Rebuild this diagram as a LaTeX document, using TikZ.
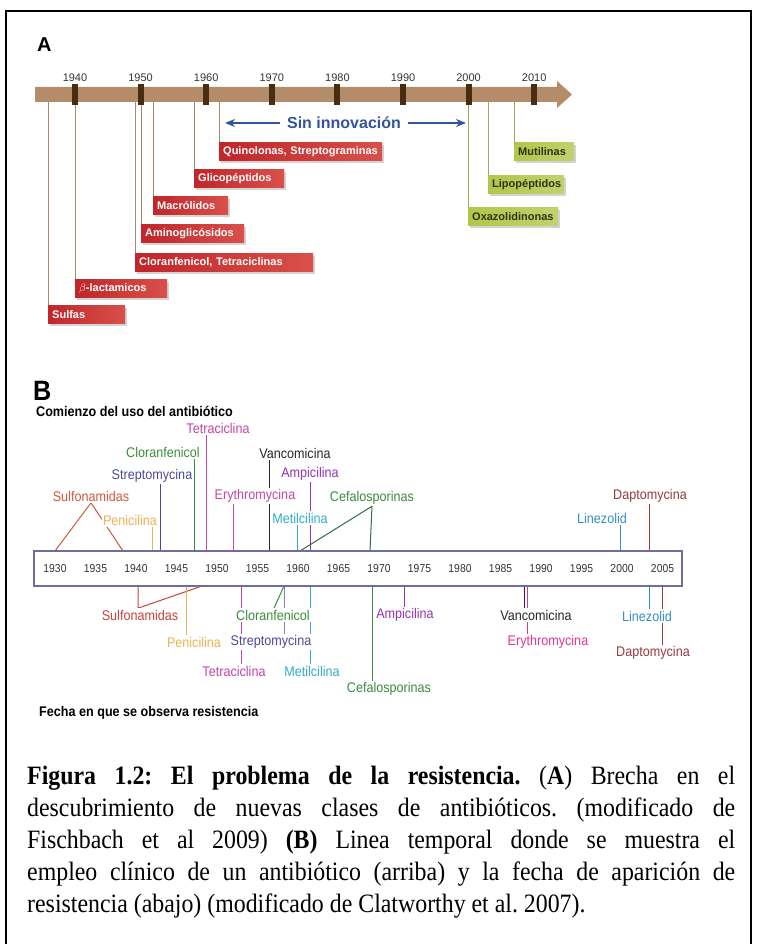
\documentclass[tikz,border=0pt]{standalone}
\usepackage{fontspec}
\setmainfont{Liberation Serif}
\setsansfont{Liberation Sans}
\newfontfamily\condsans[FakeStretch=0.9]{Liberation Sans}
\newfontfamily\captfont[FakeStretch=0.9]{Liberation Serif}
\usepackage{tikz}
\usetikzlibrary{arrows.meta,positioning,calc,shadows,backgrounds}
\definecolor{barbrown}{HTML}{B48C6A}
\definecolor{tickbrown}{HTML}{4A2C14}
\definecolor{linktan}{HTML}{A8886A}
\definecolor{linkolive}{HTML}{A9A25A}
\definecolor{boxred}{HTML}{C0262B}
\definecolor{boxredlt}{HTML}{D9504A}
\definecolor{boxgreen}{HTML}{B2C64A}
\definecolor{greentext}{HTML}{2E3510}
\definecolor{gaptext}{HTML}{34539E}
\definecolor{axisline}{HTML}{6F6C9E}
\definecolor{sulfo}{HTML}{D0583C}
\definecolor{sulfolow}{HTML}{C8403E}
\definecolor{penic}{HTML}{E8B450}
\definecolor{strepto}{HTML}{4C4A98}
\definecolor{clora}{HTML}{3C8C3C}
\definecolor{tetra}{HTML}{C444A4}
\definecolor{erythro}{HTML}{C4479C}
\definecolor{erythrolow}{HTML}{E0368E}
\definecolor{ampi}{HTML}{9432B4}
\definecolor{meti}{HTML}{34AAC8}
\definecolor{cefa}{HTML}{3C8A40}
\definecolor{cefaline}{HTML}{2E6E44}
\definecolor{linez}{HTML}{3490C4}
\definecolor{dapto}{HTML}{963A3C}

\begin{document}
\begin{tikzpicture}[x=1pt,y=-1pt,
  redbox/.style={anchor=north west,left color=boxred,right color=boxredlt,
                 text=white,font=\sffamily\bfseries\fontsize{11}{12}\selectfont,
                 text width=#1,align=left,minimum height=18pt,inner xsep=4pt,inner ysep=2pt,
                 drop shadow={opacity=0.35,shadow xshift=2pt,shadow yshift=-2.5pt}},
  greenbox/.style={redbox=#1,left color=boxgreen,right color=boxgreen!80!white,text=greentext},
  tickA/.style={fill=tickbrown,minimum width=6pt,minimum height=21pt,inner sep=0pt},
  yearA/.style={font=\sffamily\fontsize{11}{12}\selectfont,text=black!80},
  linkA/.style={draw=linktan,line width=0.9pt},
  linkG/.style={draw=linkolive,line width=0.9pt},
  gaparr/.style={draw=gaptext,line width=2pt,-{Stealth[length=10pt,width=8pt]}},
  yearB/.style={font=\condsans\fontsize{11.5}{12}\selectfont,text=black!80},
  drug/.style={font=\condsans\fontsize{14}{15}\selectfont,fill=white,inner sep=1.5pt},
  tie/.style={line width=1pt},
  title/.style={font=\condsans\bfseries\fontsize{14}{15}\selectfont,anchor=base west,inner sep=0pt},
]
\useasboundingbox (0,0) rectangle (757,944);
\draw[line width=2pt] (6,944) -- (6,11) -- (751,11) -- (751,944);

\node[font=\sffamily\bfseries\fontsize{20}{22}\selectfont,anchor=base west,inner sep=0pt] (pA) at (37,52) {A};
\fill[barbrown] (35,87) -- (557,87) -- (557,81) -- (572,94.5) -- (557,108) -- (557,102) -- (35,102) -- cycle;
\foreach \yr [count=\i from 0] in {1940,1950,...,2010}{
  \node[tickA] (tk\yr) at (75+65.6*\i,94.5) {};
  \node[yearA] (yA\yr) at (75+65.6*\i,78) {\yr};
}

\node[font=\sffamily\bfseries\fontsize{16}{18}\selectfont,text=gaptext,inner xsep=7pt] (gap) at (344,123) {Sin innovación};
\coordinate (gapL) at (225,123);
\coordinate (gapR) at (466,123);
\draw[gaparr] (gap.west) -- (gapL);
\draw[gaparr] (gap.east) -- (gapR);

\node[redbox=155pt] (quino) at (219,142) {Quinolonas, Streptograminas};
\node[redbox=82pt] (glico) at (194,169) {Glicopéptidos};
\node[redbox=67pt] (macro) at (153,196) {Macrólidos};
\node[redbox=95pt] (amino) at (141,224) {Aminoglicósidos};
\node[redbox=170pt] (clote) at (135,253) {Cloranfenicol, Tetraciclinas};
\node[redbox=84pt] (betal) at (75,279) {$\beta$-lactamicos};
\node[redbox=69pt] (sulfa) at (48,305) {Sulfas};
\node[greenbox=52pt] (mutil) at (514,142) {Mutilinas};
\node[greenbox=68pt] (lipop) at (488,175) {Lipopéptidos};
\node[greenbox=82pt] (oxazo) at (468,207) {Oxazolidinonas};

\foreach \nm/\x in {c35/48,c40/75,c49/135,c50/141,c52/153,c58/194,c62/219,c00/468,c03/488,c07/514}
  \coordinate (\nm) at (\x,102);
\begin{scope}[on background layer]
  \draw[linkA] (c35) -- (sulfa.north west);
  \draw[linkA] (c40) -- (betal.north west);
  \draw[linkA] (c49) -- (clote.north west);
  \draw[linkA] (c50) -- (amino.north west);
  \draw[linkA] (c52) -- (macro.north west);
  \draw[linkA] (c58) -- (glico.north west);
  \draw[linkA] (c62) -- (quino.north west);
  \draw[linkG] (c00) -- (oxazo.north west);
  \draw[linkG] (c03) -- (lipop.north west);
  \draw[linkG] (c07) -- (mutil.north west);
\end{scope}

\node[font=\condsans\bfseries\fontsize{28}{30}\selectfont,anchor=base west,inner sep=0pt] (pB) at (33,400) {B};
\node[title] (useT) at (36,416) {Comienzo del uso del antibiótico};
\node[title] (resT) at (39,716) {Fecha en que se observa resistencia};

\node[draw=axisline,line width=1.3pt,minimum width=648pt,minimum height=35pt,inner sep=0pt] (axis) at (358,568.5) {};
\foreach \yr [count=\i from 0] in {1930,1935,...,2005}
  \node[yearB] (yB\yr) at (55+40.5*\i,569) {\yr};

\node[drug,text=sulfo] (sulTop) at (91,496) {Sulfonamidas};
\node[drug,text=penic] (penTop) at (130,520) {Penicilina};
\node[drug,text=strepto] (strTop) at (152,476) {Streptomycina};
\node[drug,text=clora] (cloTop) at (163,452) {Cloranfenicol};
\node[drug,text=tetra] (tetTop) at (218,428) {Tetraciclina};
\node[drug,text=erythro] (eryTop) at (255,496) {Erythromycina};
\node[drug,text=black!85] (vanTop) at (295,453) {Vancomicina};
\node[drug,text=ampi] (ampTop) at (310,474) {Ampicilina};
\node[drug,text=meti] (metTop) at (300,518) {Metilcilina};
\node[drug,text=cefa] (cefTop) at (372,498) {Cefalosporinas};
\node[drug,text=linez] (linTop) at (602,518) {Linezolid};
\node[drug,text=dapto] (dapTop) at (650,496) {Daptomycina};

\node[drug,text=sulfolow] (sulLow) at (140,615) {Sulfonamidas};
\node[drug,text=penic] (penLow) at (194,642) {Penicilina};
\node[drug,text=clora] (cloLow) at (273,615) {Cloranfenicol};
\node[drug,text=strepto] (strLow) at (271,642) {Streptomycina};
\node[drug,text=tetra] (tetLow) at (234,671) {Tetraciclina};
\node[drug,text=meti] (metLow) at (312,671) {Metilcilina};
\node[drug,text=cefa] (cefLow) at (389,689) {Cefalosporinas};
\node[drug,text=ampi] (ampLow) at (405,615) {Ampicilina};
\node[drug,text=black!85] (vanLow) at (536,615) {Vancomicina};
\node[drug,text=erythrolow] (eryLow) at (548,642) {Erythromycina};
\node[drug,text=linez] (linLow) at (647,616) {Linezolid};
\node[drug,text=dapto] (dapLow) at (653,653) {Daptomycina};

\foreach \nm/\x in {uSa/55,uSb/123,uPen/152,uStr/160,uClo/194,uTet/206,uEry/233,uVan/269,uMet/297,uCa/300,uAmp/310,uCb/370,uLin/620,uDap/649}
  \coordinate (\nm) at (\x,551);
\foreach \nm/\x in {lSa/138,lSb/202,lPen/186,lTet/241,lStr/284,lMet/310,lCef/372,lAmp/404,lVan/524,lEry/527,lLin/649,lDap/662}
  \coordinate (\nm) at (\x,586);

\begin{scope}[on background layer]
  \draw[tie,sulfo] (uSa) -- (sulTop.south) -- (uSb);
  \draw[tie,penic] (uPen) -- (uPen |- penTop.south);
  \draw[tie,strepto] (uStr) -- (uStr |- strTop.south);
  \draw[tie,clora] (uClo) -- (uClo |- cloTop.south);
  \draw[tie,tetra] (uTet) -- (uTet |- tetTop.south);
  \draw[tie,erythro] (uEry) -- (uEry |- eryTop.south);
  \draw[tie,black!85] (uVan) -- (uVan |- vanTop.south);
  \draw[tie,ampi] (uAmp) -- (uAmp |- ampTop.south);
  \draw[tie,meti] (uMet) -- (uMet |- metTop.south);
  \draw[tie,cefaline] (uCa) -- (cefTop.south) -- (uCb);
  \draw[tie,linez] (uLin) -- (uLin |- linTop.south);
  \draw[tie,dapto] (uDap) -- (uDap |- dapTop.south);

  \draw[tie,sulfolow] (lSa) -- (lSa |- sulLow.north) -- (lSb);
  \draw[tie,penic] (lPen) -- (lPen |- penLow.north);
  \draw[tie,tetra] (lTet) -- (lTet |- tetLow.north);
  \draw[tie,strepto!70] (lStr) -- (lStr |- strLow.north);
  \draw[tie,clora] (lStr) -- ($(cloLow.north)+(1,0)$);
  \draw[tie,meti] (lMet) -- (lMet |- metLow.north);
  \draw[tie,cefa] (lCef) -- (lCef |- cefLow.north);
  \draw[tie,ampi] (lAmp) -- (lAmp |- ampLow.north);
  \draw[tie,black!85] (lVan) -- (lVan |- vanLow.north);
  \draw[tie,erythrolow] (lEry) -- (lEry |- eryLow.north);
  \draw[tie,linez] (lLin) -- (lLin |- linLow.north);
  \draw[tie,dapto] (lDap) -- (lDap |- dapLow.north);
\end{scope}

\node[anchor=base west,inner sep=0pt,text width=708pt,align=justify,
      font=\captfont\fontsize{26.5}{32}\selectfont\frenchspacing] (capt) at (27,784)
  {\textbf{Figura 1.2: El problema de la resistencia.} (\textbf{A}) Brecha en el\linebreak
   descubrimiento de nuevas clases de antibióticos. (modificado de\linebreak
   Fischbach et al 2009) \textbf{(B)} Linea temporal donde se muestra el\linebreak
   empleo clínico de un antibiótico (arriba) y la fecha de aparición de\linebreak
   resistencia (abajo) (modificado de Clatworthy et al. 2007).};
\end{tikzpicture}
\end{document}
